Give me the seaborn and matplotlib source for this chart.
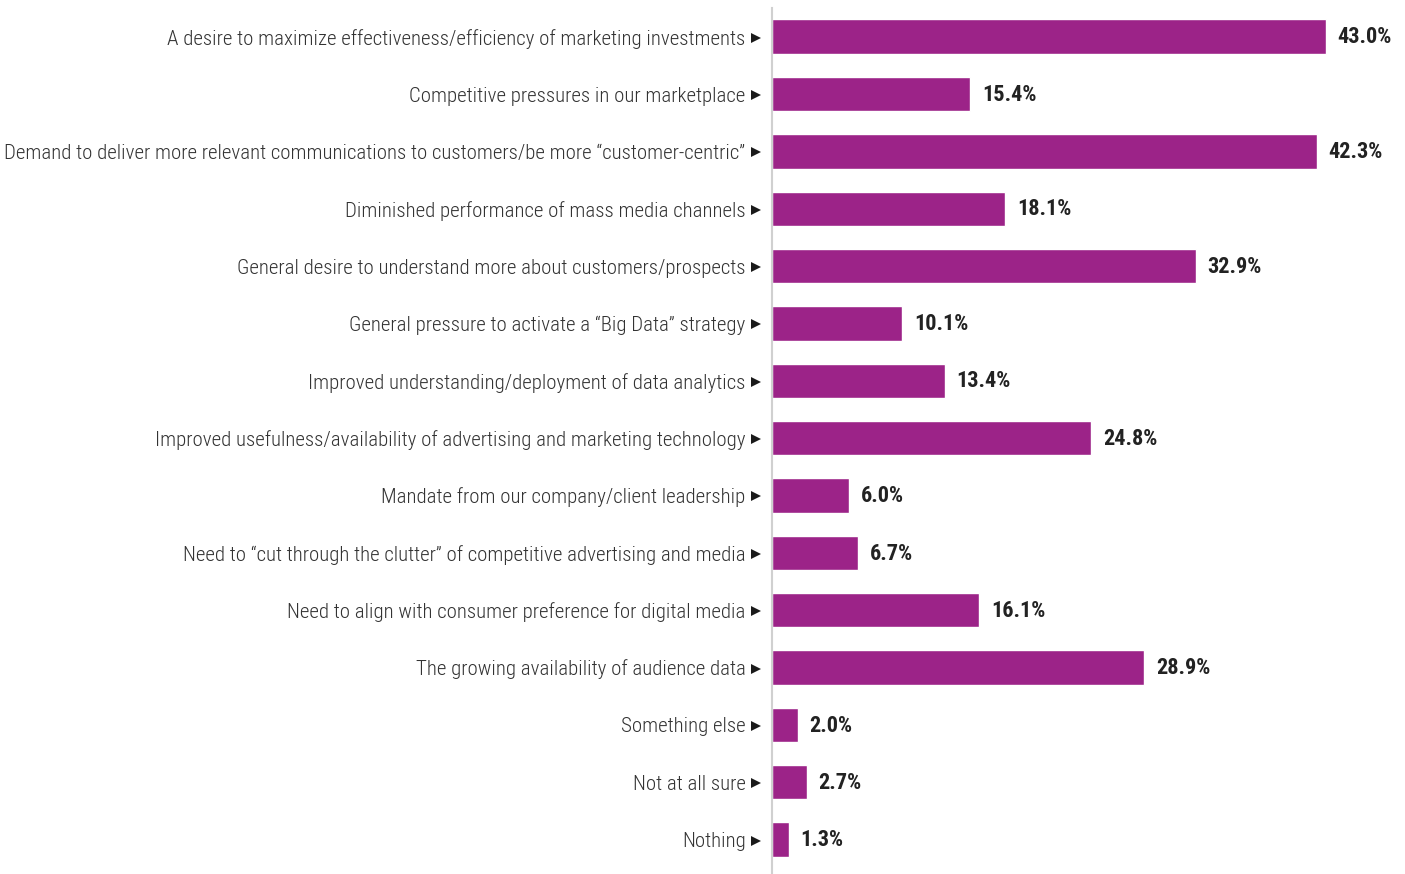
import matplotlib
matplotlib.use("Agg")
import matplotlib.pyplot as plt
import matplotlib.transforms as mtransforms
import seaborn as sns
import pandas as pd

categories = [
    "A desire to maximize effectiveness/efficiency of marketing investments",
    "Competitive pressures in our marketplace",
    "Demand to deliver more relevant communications to customers/be more \u201ccustomer-centric\u201d",
    "Diminished performance of mass media channels",
    "General desire to understand more about customers/prospects",
    "General pressure to activate a \u201cBig Data\u201d strategy",
    "Improved understanding/deployment of data analytics",
    "Improved usefulness/availability of advertising and marketing technology",
    "Mandate from our company/client leadership",
    "Need to \u201ccut through the clutter\u201d of competitive advertising and media",
    "Need to align with consumer preference for digital media",
    "The growing availability of audience data",
    "Something else",
    "Not at all sure",
    "Nothing",
]
values = [43.0, 15.4, 42.3, 18.1, 32.9, 10.1, 13.4, 24.8, 6.0, 6.7, 16.1, 28.9, 2.0, 2.7, 1.3]

sns.set_theme(style="white")
plt.rcParams["font.family"] = ["Roboto Condensed", "DejaVu Sans"]

df = pd.DataFrame({"category": categories, "value": values})

fig = plt.figure(figsize=(14.05, 8.74), dpi=100)
ax = fig.add_axes([772 / 1405, 0.0, 1 - 772 / 1405, 866 / 874])

sns.barplot(data=df, x="value", y="category", color="#9c2388", width=0.6,
            saturation=1, ax=ax, orient="h")

ax.set_xlim(0, 49.15)
ax.set_ylim(len(categories) - 0.4, -0.5)
ax.set_xlabel("")
ax.set_ylabel("")
ax.set_xticks([])
for s in ["top", "right", "bottom"]:
    ax.spines[s].set_visible(False)
ax.spines["left"].set_color("#d0d0d0")
ax.spines["left"].set_linewidth(1.5)

ax.tick_params(axis="y", length=0, pad=19)
ax.set_yticks(range(len(categories)))
ax.set_yticklabels(categories, fontsize=15, color="#333333", fontweight="light")

# small pointer triangles between the labels and the axis
tri_tf = mtransforms.blended_transform_factory(ax.transAxes, ax.transData) + \
    mtransforms.ScaledTranslation(-0.165, -0.01, fig.dpi_scale_trans)
for i in range(len(categories)):
    ax.plot([0], [i], marker=">", markersize=7, color="#1a1a1a",
            transform=tri_tf, clip_on=False, markeredgewidth=0)

for i, v in enumerate(values):
    ax.annotate(f"{v:.1f}%", xy=(v, i), xytext=(8.5, -0.5), textcoords="offset points",
                va="center", ha="left", fontsize=16, fontweight="bold",
                color="#222222")

fig.savefig("out.png", dpi=100)
